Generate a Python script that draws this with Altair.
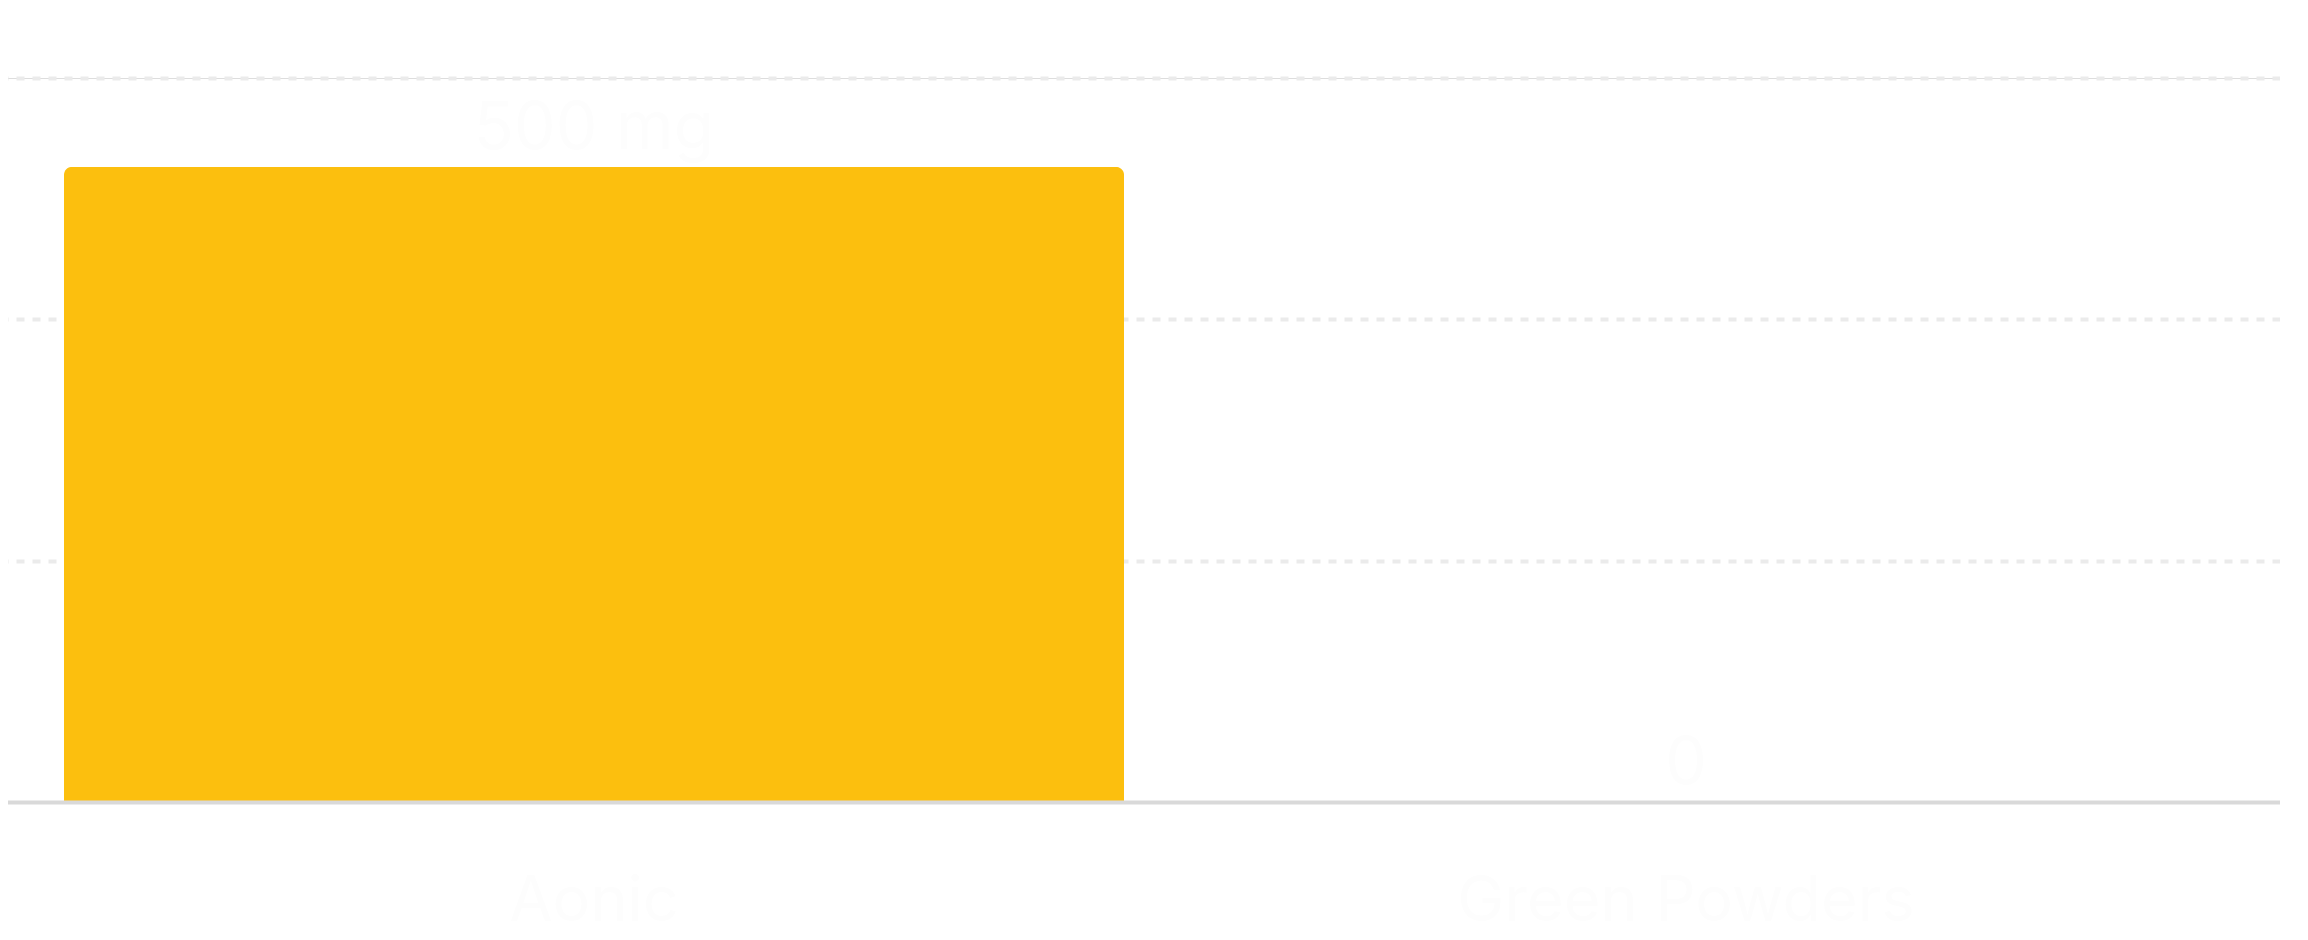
import altair as alt
import pandas as pd

categories = ["Aonic", "Green Powders"]
values = [500, 0]
value_labels = ["500 mg", "0"]
grid_values = [190, 380, 570]

df = pd.DataFrame({"category": categories, "value": values, "label": value_labels})

FONT = "Inter"
TEXT_COLOR = "#fdfdfd"

x_enc = alt.X(
    "category:N",
    sort=categories,
    scale=alt.Scale(paddingInner=0.0293, paddingOuter=0.0586),
    axis=alt.Axis(
        title=None,
        labelAngle=0,
        labelFont=FONT,
        labelFontSize=63,
        labelColor=TEXT_COLOR,
        labelBaseline="alphabetic",
        labelPadding=118,
        labelLimit=0,
        ticks=False,
        domain=True,
        domainColor="#d9d9d9",
        domainWidth=4,
        grid=False,
        zindex=1,
    ),
)

y_enc = alt.Y(
    "value:Q",
    scale=alt.Scale(domain=[0, 570], nice=False),
    axis=alt.Axis(
        title=None,
        values=grid_values,
        labels=False,
        ticks=False,
        domain=False,
        grid=True,
        gridColor="#ebebeb",
        gridWidth=4,
        gridDash=[8, 8],
    ),
)

bars = alt.Chart(df).mark_bar(
    color="#FCBF0E",
    cornerRadiusTopLeft=8,
    cornerRadiusTopRight=8,
).encode(x=x_enc, y=y_enc)

labels = alt.Chart(df).mark_text(
    font=FONT,
    fontSize=66,
    color=TEXT_COLOR,
    baseline="alphabetic",
    align="center",
    dy=-18,
).encode(
    x=alt.X("category:N", sort=categories),
    y=alt.Y("value:Q"),
    text="label:N",
)

chart = (
    alt.layer(bars, labels)
    .properties(
        width=2280,
        height=724,
        autosize=alt.AutoSizeParams(type="none"),
        padding={"left": -8, "top": 70, "right": 0, "bottom": 140},
    )
    .configure_view(stroke=None)
    .configure(background="white")
)

chart.save("out.html", embed_options={"renderer": "svg", "actions": False})
